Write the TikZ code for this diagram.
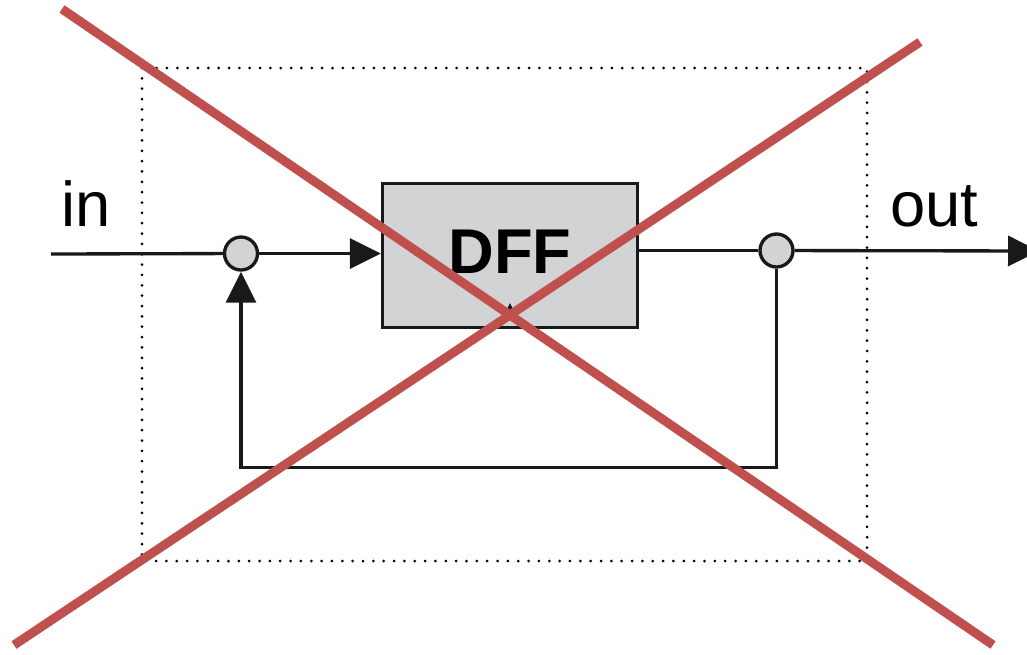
\documentclass[tikz,border=0pt]{standalone}
\usepackage{fontspec}
\setmainfont{Liberation Sans}
\usetikzlibrary{arrows.meta, calc}
\definecolor{blockgray}{HTML}{D1D3D4}
\definecolor{crossred}{HTML}{C0504D}

\begin{document}
\begin{tikzpicture}[x=0.02cm, y=-0.02cm,
		wire/.style={draw=black!90, line width=1.9pt},
		flow/.style={wire, -{Triangle[length=0.62cm, width=0.6cm]}},
		sumnode/.style={circle, draw=black!90, line width=1.9pt, fill=blockgray, minimum size=0.66cm, inner sep=0pt},
		tag/.style={font=\fontsize{36}{40}\selectfont, anchor=base, inner sep=0pt},
		cross/.style={draw=crossred, line width=0.18cm}]
	\useasboundingbox (0,0) rectangle (1027,654);
	% dotted frame round the circuit
	\draw[line width=0.06cm, dash pattern=on 0pt off 0.207cm, line cap=round] (142,68) rectangle (867,561);
	% flip-flop and the two joints
	\node[rectangle, draw=black!90, line width=1.9pt, fill=blockgray, minimum width=5.1cm, minimum height=2.88cm, inner sep=0pt, text depth=0.14cm, font=\fontsize{36}{40}\selectfont\bfseries] (DFF) at (510,255.5) {DFF};
	\node[sumnode] (Lsum) at (241,253.5) {};
	\node[sumnode] (Rsum) at (776.5,250.5) {};
	\coordinate (In) at (51,254);
	\coordinate (Out) at (1039,251);
	\coordinate (Loop) at (510,467.5);
	% wires
	\draw[wire] (In) -- (Lsum);
	\draw[flow] (Lsum) -- (Lsum -| DFF.west);
	\draw[wire] (DFF.east |- Rsum) -- (Rsum);
	\draw[flow] (Rsum) -- (Out);
	\draw[flow] (Rsum) -- (Rsum |- Loop) -- (Lsum |- Loop) -- (Lsum);
	% clock mark
	\fill[black!90] ($(DFF.south)+(0,-26)$) -- ++(-4,8) -- ++(8,0) -- cycle;
	% labels
	\node[tag] (InTag) at (86,226) {in};
	\node[tag] (OutTag) at (934,226) {out};
	% crossed out
	\draw[cross] (62,9) -- (993,645);
	\draw[cross] (920,42) -- (14,645);
\end{tikzpicture}
\end{document}
